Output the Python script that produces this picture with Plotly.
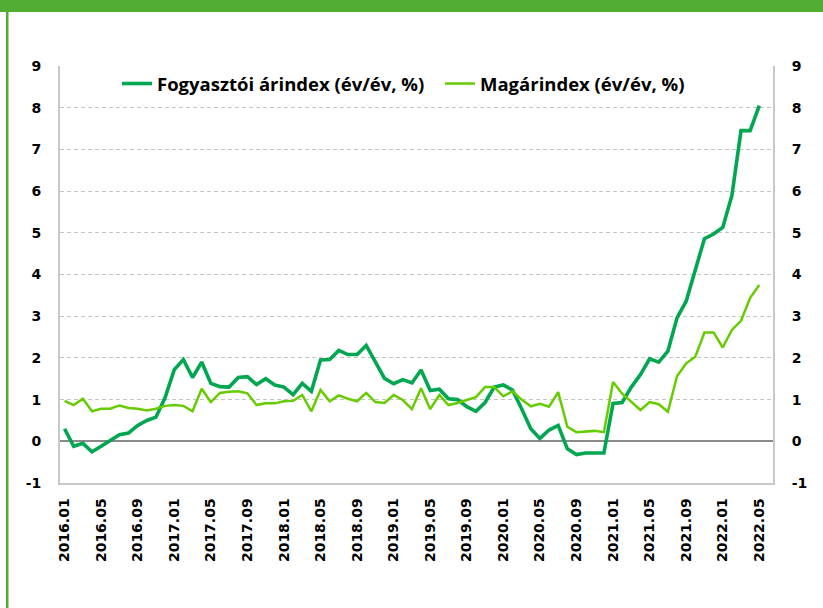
import plotly.graph_objects as go

# Monthly categories 2016.01 .. 2022.06 (last slot empty, as in the reference)
months = [f"{y}.{m:02d}" for y in range(2016, 2023) for m in range(1, 13)][:78]

cpi = [
    0.30, -0.12, -0.05, -0.25, -0.12, 0.03, 0.16, 0.20, 0.38, 0.50, 0.58, 1.05,
    1.72, 1.96, 1.53, 1.90, 1.39, 1.31, 1.30, 1.53, 1.55, 1.36, 1.50, 1.35,
    1.30, 1.12, 1.39, 1.20, 1.95, 1.96, 2.18, 2.08, 2.08, 2.30, 1.90, 1.51,
    1.38, 1.48, 1.40, 1.71, 1.22, 1.25, 1.02, 1.00, 0.83, 0.72, 0.93, 1.30,
    1.35, 1.23, 0.78, 0.30, 0.07, 0.27, 0.38, -0.18, -0.32, -0.28, -0.28, -0.28,
    0.91, 0.93, 1.30, 1.60, 1.98, 1.90, 2.16, 2.96, 3.36, 4.10, 4.86, 4.97,
    5.13, 5.89, 7.45, 7.45, 8.05,
]

core = [
    0.97, 0.87, 1.02, 0.72, 0.78, 0.78, 0.86, 0.80, 0.78, 0.74, 0.78, 0.85,
    0.87, 0.85, 0.72, 1.26, 0.94, 1.16, 1.19, 1.20, 1.15, 0.87, 0.91, 0.91,
    0.96, 0.97, 1.11, 0.72, 1.23, 0.96, 1.10, 1.02, 0.96, 1.16, 0.94, 0.92,
    1.11, 0.99, 0.77, 1.27, 0.77, 1.11, 0.87, 0.92, 0.99, 1.06, 1.30, 1.30,
    1.08, 1.20, 1.00, 0.84, 0.90, 0.83, 1.18, 0.35, 0.22, 0.23, 0.25, 0.22,
    1.42, 1.14, 0.94, 0.75, 0.94, 0.89, 0.71, 1.56, 1.87, 2.03, 2.61, 2.61,
    2.25, 2.67, 2.89, 3.44, 3.75,
]

tick_labels = ["2016.01", "2016.05", "2016.09", "2017.01", "2017.05", "2017.09",
               "2018.01", "2018.05", "2018.09", "2019.01", "2019.05", "2019.09",
               "2020.01", "2020.05", "2020.09", "2021.01", "2021.05", "2021.09",
               "2022.01", "2022.05"]
y_ticks = [-1, 0, 1, 2, 3, 4, 5, 6, 7, 8, 9]
y_tick_text = ["-1", "0", "1", "2", "3", "4", "5", "6", "7", "8", "9"]

name_cpi = "Fogyasztói árindex (év/év, %)"
name_core = "Magárindex (év/év, %)"

DARK = "#00A650"
LIGHT = "#66CC00"
FRAME = "#52AE32"

W, H = 823, 608
ML, MR, MT, MB = 60, 50, 66, 125
PW, PH = W - ML - MR, H - MT - MB

def px_x(p):
    return (p - ML) / PW

def px_y(p):
    return (H - MB - p) / PH

fig = go.Figure()
fig.add_trace(go.Scatter(
    x=months[:len(cpi)], y=cpi, mode="lines", name=name_cpi,
    line=dict(color=DARK, width=3.6), legend="legend", showlegend=True,
))
fig.add_trace(go.Scatter(
    x=months[:len(core)], y=core, mode="lines", name=name_core,
    line=dict(color=LIGHT, width=2.5), yaxis="y2", legend="legend2",
    showlegend=True,
))

tickfont = dict(family="DejaVu Sans", size=14, color="#000000", weight="bold")
legfont = dict(family="Open Sans", size=18.5, color="#000000", weight="bold")

fig.update_layout(
    width=W, height=H,
    margin=dict(l=ML, r=MR, t=MT, b=MB),
    paper_bgcolor="white", plot_bgcolor="white",
    showlegend=True,
    xaxis=dict(
        type="category", categoryorder="array", categoryarray=months,
        range=[-0.5, len(months) - 0.5],
        tickmode="array", tickvals=tick_labels, ticktext=tick_labels,
        tickangle=-90, tickfont=tickfont, showgrid=False,
        showline=True, linecolor="#C8C8C8", linewidth=1.5,
        ticks="", ticklabelstandoff=8, zeroline=False,
    ),
    yaxis=dict(
        range=[-1, 9], tickmode="array", tickvals=y_ticks, ticktext=y_tick_text,
        tickfont=tickfont,
        showgrid=True, gridcolor="#C4C4C4", gridwidth=1, griddash="4px,3px",
        zeroline=True, zerolinecolor="#8A8A8A", zerolinewidth=1.5,
        showline=True, linecolor="#C8C8C8", linewidth=2,
        ticks="", ticklabelstandoff=14,
    ),
    yaxis2=dict(
        range=[-1, 9], tickmode="array", tickvals=y_ticks, ticktext=y_tick_text,
        tickfont=tickfont,
        overlaying="y", side="right", showgrid=False, zeroline=False,
        showline=True, linecolor="#C8C8C8", linewidth=2,
        ticks="", ticklabelstandoff=14,
    ),
    legend=dict(
        x=px_x(117), y=px_y(84), xanchor="left", yanchor="middle",
        orientation="h", bgcolor="rgba(0,0,0,0)", font=legfont,
    ),
    legend2=dict(
        x=px_x(440), y=px_y(84), xanchor="left", yanchor="middle",
        orientation="h", bgcolor="rgba(0,0,0,0)", font=legfont,
    ),
    shapes=[
        dict(type="rect", xref="paper", yref="paper",
             x0=px_x(0), x1=px_x(W), y0=px_y(12), y1=px_y(0),
             fillcolor=FRAME, line=dict(width=0), layer="above"),
        dict(type="rect", xref="paper", yref="paper",
             x0=px_x(6), x1=px_x(8.5), y0=px_y(H), y1=px_y(0),
             fillcolor=FRAME, line=dict(width=0), layer="above"),
    ],
)

fig.write_html("out.html", config={"displayModeBar": False},
               post_script="document.body.style.margin='0';")
